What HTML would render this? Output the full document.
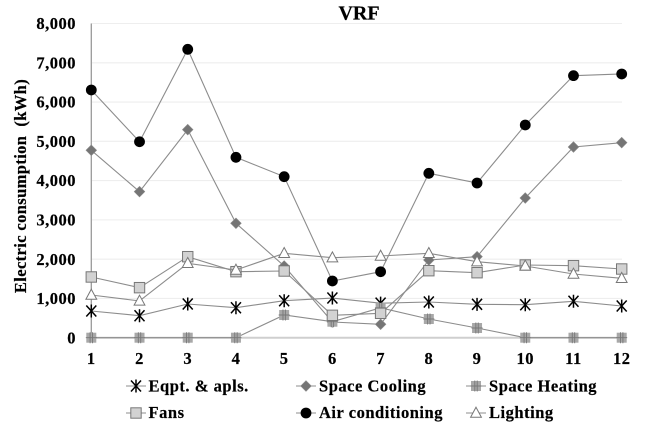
<!DOCTYPE html>
<html>
<head>
<meta charset="utf-8">
<title>VRF</title>
<style>
html,body{margin:0;padding:0;background:#fff;width:669px;height:424px;overflow:hidden}
svg{display:block;filter:blur(0.35px)}
text{font-family:"Liberation Serif",serif;font-weight:bold;fill:#000;stroke:#000;stroke-width:.2px}
.tick{font-size:16.5px;letter-spacing:.5px}
.leg{font-size:16.5px;letter-spacing:.52px}
</style>
</head>
<body>
<svg id="chart" width="669" height="424" viewBox="0 0 669 424" xmlns="http://www.w3.org/2000/svg">
  <text x="359" y="19.5" text-anchor="middle" font-size="20">VRF</text>
  <text transform="translate(26,186) rotate(-90)" text-anchor="middle" font-size="16.5" letter-spacing=".38" xml:space="preserve">Electric consumption  (kWh)</text>
  <g id="grid"></g>
  <g id="axes"></g>
  <g id="series"></g>
  <g id="legend">
    <text class="leg" x="148.5" y="391.5">Eqpt. &amp; apls.</text>
    <text class="leg" x="319" y="391.5">Space Cooling</text>
    <text class="leg" x="489" y="391.5">Space Heating</text>
    <text class="leg" x="148.5" y="418">Fans</text>
    <text class="leg" x="319" y="418">Air conditioning</text>
    <text class="leg" x="489" y="418">Lighting</text>
  </g>
</svg>
<script>
const months = [1,2,3,4,5,6,7,8,9,10,11,12];
const yTicks = [0,1000,2000,3000,4000,5000,6000,7000,8000];
const eqpt = [680,560,858,764,942,1010,880,909,850,840,927,807];
const spaceCooling = [4772,3718,5297,2913,1826,400,341,1979,2063,3557,4856,4966];
const spaceHeating = [0,0,0,0,578,407,760,476,247,0,0,0];
const fans = [1546,1274,2063,1681,1698,570,621,1706,1655,1851,1834,1749];
const airConditioning = [6307,4990,7343,4593,4100,1444,1680,4186,3939,5416,6672,6715];
const lighting = [1087,935,1894,1724,2149,2037,2080,2149,1935,1826,1622,1513];

const NS = 'http://www.w3.org/2000/svg';
function xScale(i){ return 91.3 + i * (621.7 - 91.3) / (months.length - 1); }
function yScale(v){ return 337.7 - v * (337.7 - 23.5) / 8000; }
function make(parent, tag, attrs){
  const el = document.createElementNS(NS, tag);
  for (const k in attrs) el.setAttribute(k, attrs[k]);
  parent.appendChild(el);
  return el;
}
function drawMarker(g, kind, x, y){
  if (kind === 'star') {
    const s = make(g, 'path', {d:`M${x-5},${y-5.5}L${x+5},${y+5.5}M${x+5},${y-5.5}L${x-5},${y+5.5}M${x},${y-6.5}V${y+6.5}`, fill:'none', stroke:'#000', 'stroke-width':1.5});
    
    
  } else if (kind === 'diamond') {
    const s = make(g, 'path', {d:`M${x},${y-5.3}L${x+5.3},${y}L${x},${y+5.3}L${x-5.3},${y}Z`, fill:'#757575', stroke:'#8a8a8a', 'stroke-width':.6});
    
    
  } else if (kind === 'plus') {
    const s = make(g, 'path', {d:`M${x-5},${y-5}h10v10h-10Z`, fill:'#a8a8a8', stroke:'none'});
    
    
    const p = make(g, 'path', {d:`M${x-1.2},${y-5.5}V${y+5.5}M${x+1.2},${y-5.5}V${y+5.5}M${x-5.5},${y}H${x+5.5}`, fill:'none', stroke:'#777', 'stroke-width':.9});
    
    
  } else if (kind === 'square') {
    const s = make(g, 'rect', {x:x-5.2, y:y-5.2, width:10.4, height:10.4, fill:'#d2d2d2', stroke:'#777', 'stroke-width':1});
    
    
  } else if (kind === 'circle') {
    const s = make(g, 'circle', {cx:x, cy:y, r:5.4, fill:'#000', stroke:'none'});
    
    
  } else {
    const s = make(g, 'path', {d:`M${x},${y-5.8}L${x+5.4},${y+4.2}H${x-5.4}Z`, fill:'#fff', stroke:'#777', 'stroke-width':1});
    
    
  }
}

const gridG = document.getElementById('grid');
const axesG = document.getElementById('axes');
yTicks.forEach(function(v){
  if (v > 0) {
    const l = make(gridG, 'line', {x1:91.3, x2:622, y1:yScale(v), y2:yScale(v), stroke:'#eeeeee', 'stroke-width':1.1});
    
    
  }
  const t = make(axesG, 'text', {x:76, y:yScale(v)+5.6, 'text-anchor':'end', class:'tick'});
  t.textContent = v.toLocaleString('en-US');
  
  
});
const yAxis = make(axesG, 'line', {x1:91.3, x2:91.3, y1:yScale(8000), y2:yScale(0), stroke:'#999', 'stroke-width':1.3});


const xAxis = make(axesG, 'line', {x1:91.3, x2:622, y1:yScale(0), y2:yScale(0), stroke:'#cfcfcf', 'stroke-width':2});


months.forEach(function(m, i){
  const t = make(axesG, 'text', {x:xScale(i), y:364, 'text-anchor':'middle', class:'tick'});
  t.textContent = m;
  
  
});

const seriesG = document.getElementById('series');
function drawSeries(values, kind, name){
  const g = make(seriesG, 'g', {});
  
  
  const pts = values.map(function(v, i){ return xScale(i) + ',' + yScale(v); }).join(' ');
  const line = make(g, 'polyline', {points:pts, fill:'none', stroke:'#8c8c8c', 'stroke-width':1.1});
  
  
  values.forEach(function(v, i){ drawMarker(g, kind, xScale(i), yScale(v)); });
}
drawSeries(eqpt, 'star', 'series-eqpt');
drawSeries(spaceCooling, 'diamond', 'series-space-cooling');
drawSeries(spaceHeating, 'plus', 'series-space-heating');
drawSeries(fans, 'square', 'series-fans');
drawSeries(airConditioning, 'circle', 'series-air-conditioning');
drawSeries(lighting, 'triangle', 'series-lighting');

const legendG = document.getElementById('legend');
function legendKey(x, y, kind){
  const g = make(legendG, 'g', {});
  
  
  const l = make(g, 'line', {x1:x-10, x2:x+10, y1:y, y2:y, stroke:'#8c8c8c', 'stroke-width':1.1});
  
  
  drawMarker(g, kind, x, y);
}
legendKey(136, 386, 'star');
legendKey(306, 386, 'diamond');
legendKey(476, 386, 'plus');
legendKey(136, 413, 'square');
legendKey(306, 413, 'circle');
legendKey(476, 413, 'triangle');
</script>
</body>
</html>
